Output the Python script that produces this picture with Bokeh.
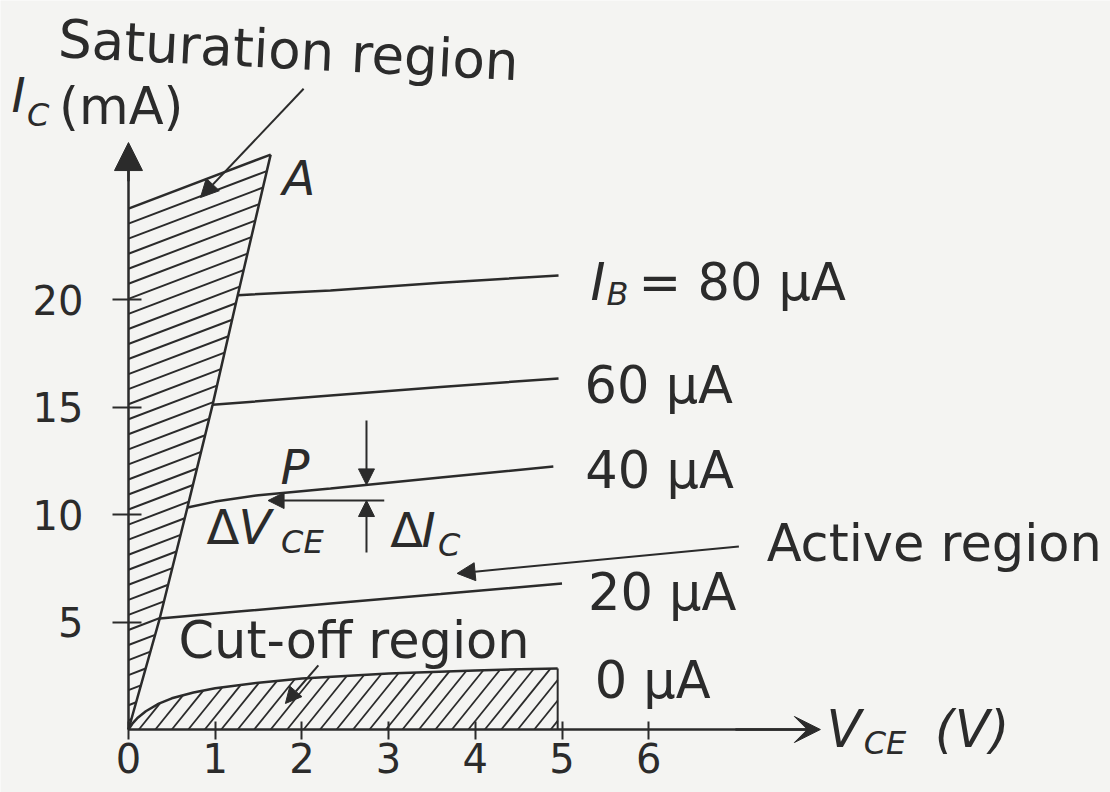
import numpy as np
from bokeh.plotting import figure
from bokeh.models import Label, Arrow, NormalHead, VeeHead, FixedTicker
from bokeh.embed import file_html
from bokeh.resources import INLINE

# ---------------- data ----------------
vce_ticks = [0, 1, 2, 3, 4, 5, 6]          # V_CE (V)
ic_ticks = [5, 10, 15, 20]                 # I_C (mA)

# output characteristics: I_C (mA) against V_CE (V) for each base current
ib_80_v = [1.26, 2.33, 3.6, 4.96]
ib_80_i = [20.2, 20.42, 20.78, 21.12]
ib_60_v = [0.97, 2.33, 3.6, 4.96]
ib_60_i = [15.1, 15.53, 15.93, 16.33]
ib_40_v = [0.68, 1.0, 1.5, 2.33, 3.6, 4.90]
ib_40_i = [10.33, 10.6, 10.9, 11.21, 11.72, 12.23]
ib_20_v = [0.36, 1.3, 2.33, 3.6, 5.0]
ib_20_i = [5.16, 5.5, 5.86, 6.3, 6.79]
ib_0_v = [0, 0.05, 0.1, 0.2, 0.35, 0.5, 0.75, 1.0, 1.5, 2.0, 3.0, 4.0, 4.95]
ib_0_i = [0, 0.3, 0.52, 0.85, 1.2, 1.45, 1.72, 1.92, 2.18, 2.37, 2.6, 2.75, 2.84]

# saturation region border (from the origin up to point A) and its top edge
sat_edge_v = [0, 0.36, 0.68, 0.97, 1.26, 1.64]
sat_edge_i = [0, 5.16, 10.33, 15.1, 20.2, 26.74]
sat_top_v = [0, 1.64]
sat_top_i = [24.23, 26.74]

# ---------------- styles ----------------
BG = "#f4f4f2"
INK = "#2b2b2b"
FONT = "DejaVu Sans"
BIG = "51px"
MID = "48px"
SUB = "32px"
TICK = "40px"

X0, X1 = -1.476, 11.326
Y0, Y1 = -2.930, 33.907

p = figure(width=1110, height=792, x_range=(X0, X1), y_range=(Y0, Y1),
           output_backend="svg", toolbar_location=None, min_border=0,
           background_fill_color=BG, border_fill_color=BG)
p.outline_line_color = None
p.grid.visible = False

# axes drawn through the origin
for ax in (p.xaxis, p.yaxis):
    ax.fixed_location = 0
    ax.axis_line_color = INK
    ax.axis_line_width = 2.5
    ax.major_tick_line_color = INK
    ax.major_tick_line_width = 2
    ax.minor_tick_line_color = None
    ax.major_label_text_font = FONT
    ax.major_label_text_font_size = TICK
    ax.major_label_text_color = INK
p.xaxis.ticker = FixedTicker(ticks=vce_ticks)
p.yaxis.ticker = FixedTicker(ticks=ic_ticks)
p.xaxis.bounds = (0, 7.9)
p.yaxis.bounds = (0, 27.0)
p.xaxis.major_tick_in = 8
p.xaxis.major_tick_out = 10
p.xaxis.major_label_standoff = 3
p.yaxis.major_tick_in = 13
p.yaxis.major_tick_out = 16
p.yaxis.major_label_standoff = 29

# axis arrow heads
p.add_layout(Arrow(end=NormalHead(size=28, fill_color=INK, line_color=INK),
                   x_start=0, y_start=25.5, x_end=0, y_end=27.3,
                   line_color=INK, line_width=2.5))
p.add_layout(Arrow(end=VeeHead(size=26, fill_color=INK, line_color=INK),
                   x_start=7.0, y_start=0, x_end=7.98, y_end=0,
                   line_color=INK, line_width=2.5))

# ---------------- saturation region ----------------
s_sat = (sat_top_i[1] - sat_top_i[0]) / (sat_top_v[1] - sat_top_v[0])
yy = np.linspace(0, sat_edge_i[-1], 6000)
xb = np.interp(yy, sat_edge_i, sat_edge_v)
hx0, hy0, hx1, hy1 = [], [], [], []
gap = 0.70
c = sat_top_i[0] - gap
while c > 0.3:
    f = c + s_sat * xb - yy
    k = np.argmax(f <= 0)
    hx0.append(0.0); hy0.append(c); hx1.append(xb[k]); hy1.append(yy[k])
    c -= gap
p.segment(hx0, hy0, hx1, hy1, line_color=INK, line_width=2)
p.line(sat_edge_v, sat_edge_i, line_color=INK, line_width=2.5)
p.line(sat_top_v, sat_top_i, line_color=INK, line_width=2.5)

# ---------------- cut-off region ----------------
s_cut = 5.0
xx = np.linspace(0, ib_0_v[-1], 5000)
top = np.interp(xx, ib_0_v, ib_0_i)
cx0, cy0, cx1, cy1 = [], [], [], []
for x0 in np.arange(0.12, ib_0_v[-1], 0.19):
    yl = s_cut * (xx - x0)
    hit = np.where((xx >= x0) & (yl >= top))[0]
    if len(hit):
        k = hit[0]
        ex, ey = xx[k], top[k]
    else:
        ex, ey = xx[-1], yl[-1]
    cx0.append(x0); cy0.append(0.0); cx1.append(ex); cy1.append(ey)
p.segment(cx0, cy0, cx1, cy1, line_color=INK, line_width=1.8)
p.line(ib_0_v, ib_0_i, line_color=INK, line_width=2.5)
p.line([ib_0_v[-1], ib_0_v[-1]], [0, ib_0_i[-1]], line_color=INK, line_width=2)

# ---------------- characteristic curves ----------------
curves = [(ib_80_v, ib_80_i), (ib_60_v, ib_60_i), (ib_40_v, ib_40_i), (ib_20_v, ib_20_i)]
for cv, ci in curves:
    p.line(cv, ci, line_color=INK, line_width=2.5)


def lab(x, y, text, size=BIG, style="normal", align="left", angle=0.0,
        xo=0, yo=0):
    p.add_layout(Label(x=x, y=y, text=text, text_font=FONT, text_font_size=size,
                       text_font_style=style, text_color=INK, text_align=align,
                       text_baseline="middle", angle=angle, x_offset=xo,
                       y_offset=yo))


# curve labels, placed just right of each curve end
lab(ib_80_v[-1], ib_80_i[-1], "I", style="italic", xo=32, yo=-7)
lab(ib_80_v[-1], ib_80_i[-1], "B", size=SUB, style="italic", xo=48, yo=-19)
lab(ib_80_v[-1], ib_80_i[-1], "= 80 μA", xo=80, yo=-7)
lab(ib_60_v[-1], ib_60_i[-1], "60 μA", xo=26, yo=-7)
lab(ib_40_v[-1], ib_40_i[-1], "40 μA", xo=32, yo=-4)
lab(ib_20_v[-1], ib_20_i[-1], "20 μA", xo=26, yo=-9)
lab(ib_0_v[-1], ib_0_i[-1], "0 μA", xo=37, yo=-12)

# region and axis labels
lab(1.845, 31.6, "Saturation region", size="53px", align="center", angle=-0.05)
lab(-1.35, 29.5, "I", size=MID, style="italic")
lab(-1.17, 28.6, "C", size=SUB, style="italic")
lab(-0.80, 29.0, "(mA)", size=BIG)
lab(1.776, 25.63, "A", size=MID, style="italic")
lab(1.753, 12.19, "P", size=MID, style="italic")
lab(0.90, 9.44, "Δ", size=MID)
lab(1.27, 9.44, "V", size=MID, style="italic")
lab(1.76, 8.72, "CE", size=SUB, style="italic")
lab(3.02, 9.30, "Δ", size=MID)
lab(3.38, 9.30, "I", size=MID, style="italic")
lab(3.57, 8.58, "C", size=SUB, style="italic")
lab(7.36, 8.65, "Active region")
lab(0.577, 4.14, "Cut-off region")
lab(8.05, 0.0, "V", size=BIG, style="italic")
lab(8.48, -0.62, "CE", size=SUB, style="italic")
lab(9.30, 0.0, "(V)", size=BIG, style="italic")

# ---------------- pointer arrows ----------------
def arrow(xs, ys, xe, ye, size=16):
    p.add_layout(Arrow(end=NormalHead(size=size, fill_color=INK, line_color=INK),
                       x_start=xs, y_start=ys, x_end=xe, y_end=ye,
                       line_color=INK, line_width=2))


x_p = 2.745
i_p = float(np.interp(x_p, ib_40_v, ib_40_i))
arrow(2.02, 29.8, 0.83, 24.74, size=18)          # saturation region
arrow(2.95, 10.65, 1.61, 10.65, size=16)         # delta V_CE
arrow(x_p, 14.37, x_p, i_p, size=16)             # delta I_C (down)
arrow(x_p, 8.23, x_p, 10.65, size=16)            # delta I_C (up)
arrow(7.04, 8.51, 3.79, 7.26, size=18)           # active region
arrow(2.19, 2.98, 1.81, 1.21, size=16)           # cut-off region

open("out.html", "w").write(file_html(p, INLINE))
